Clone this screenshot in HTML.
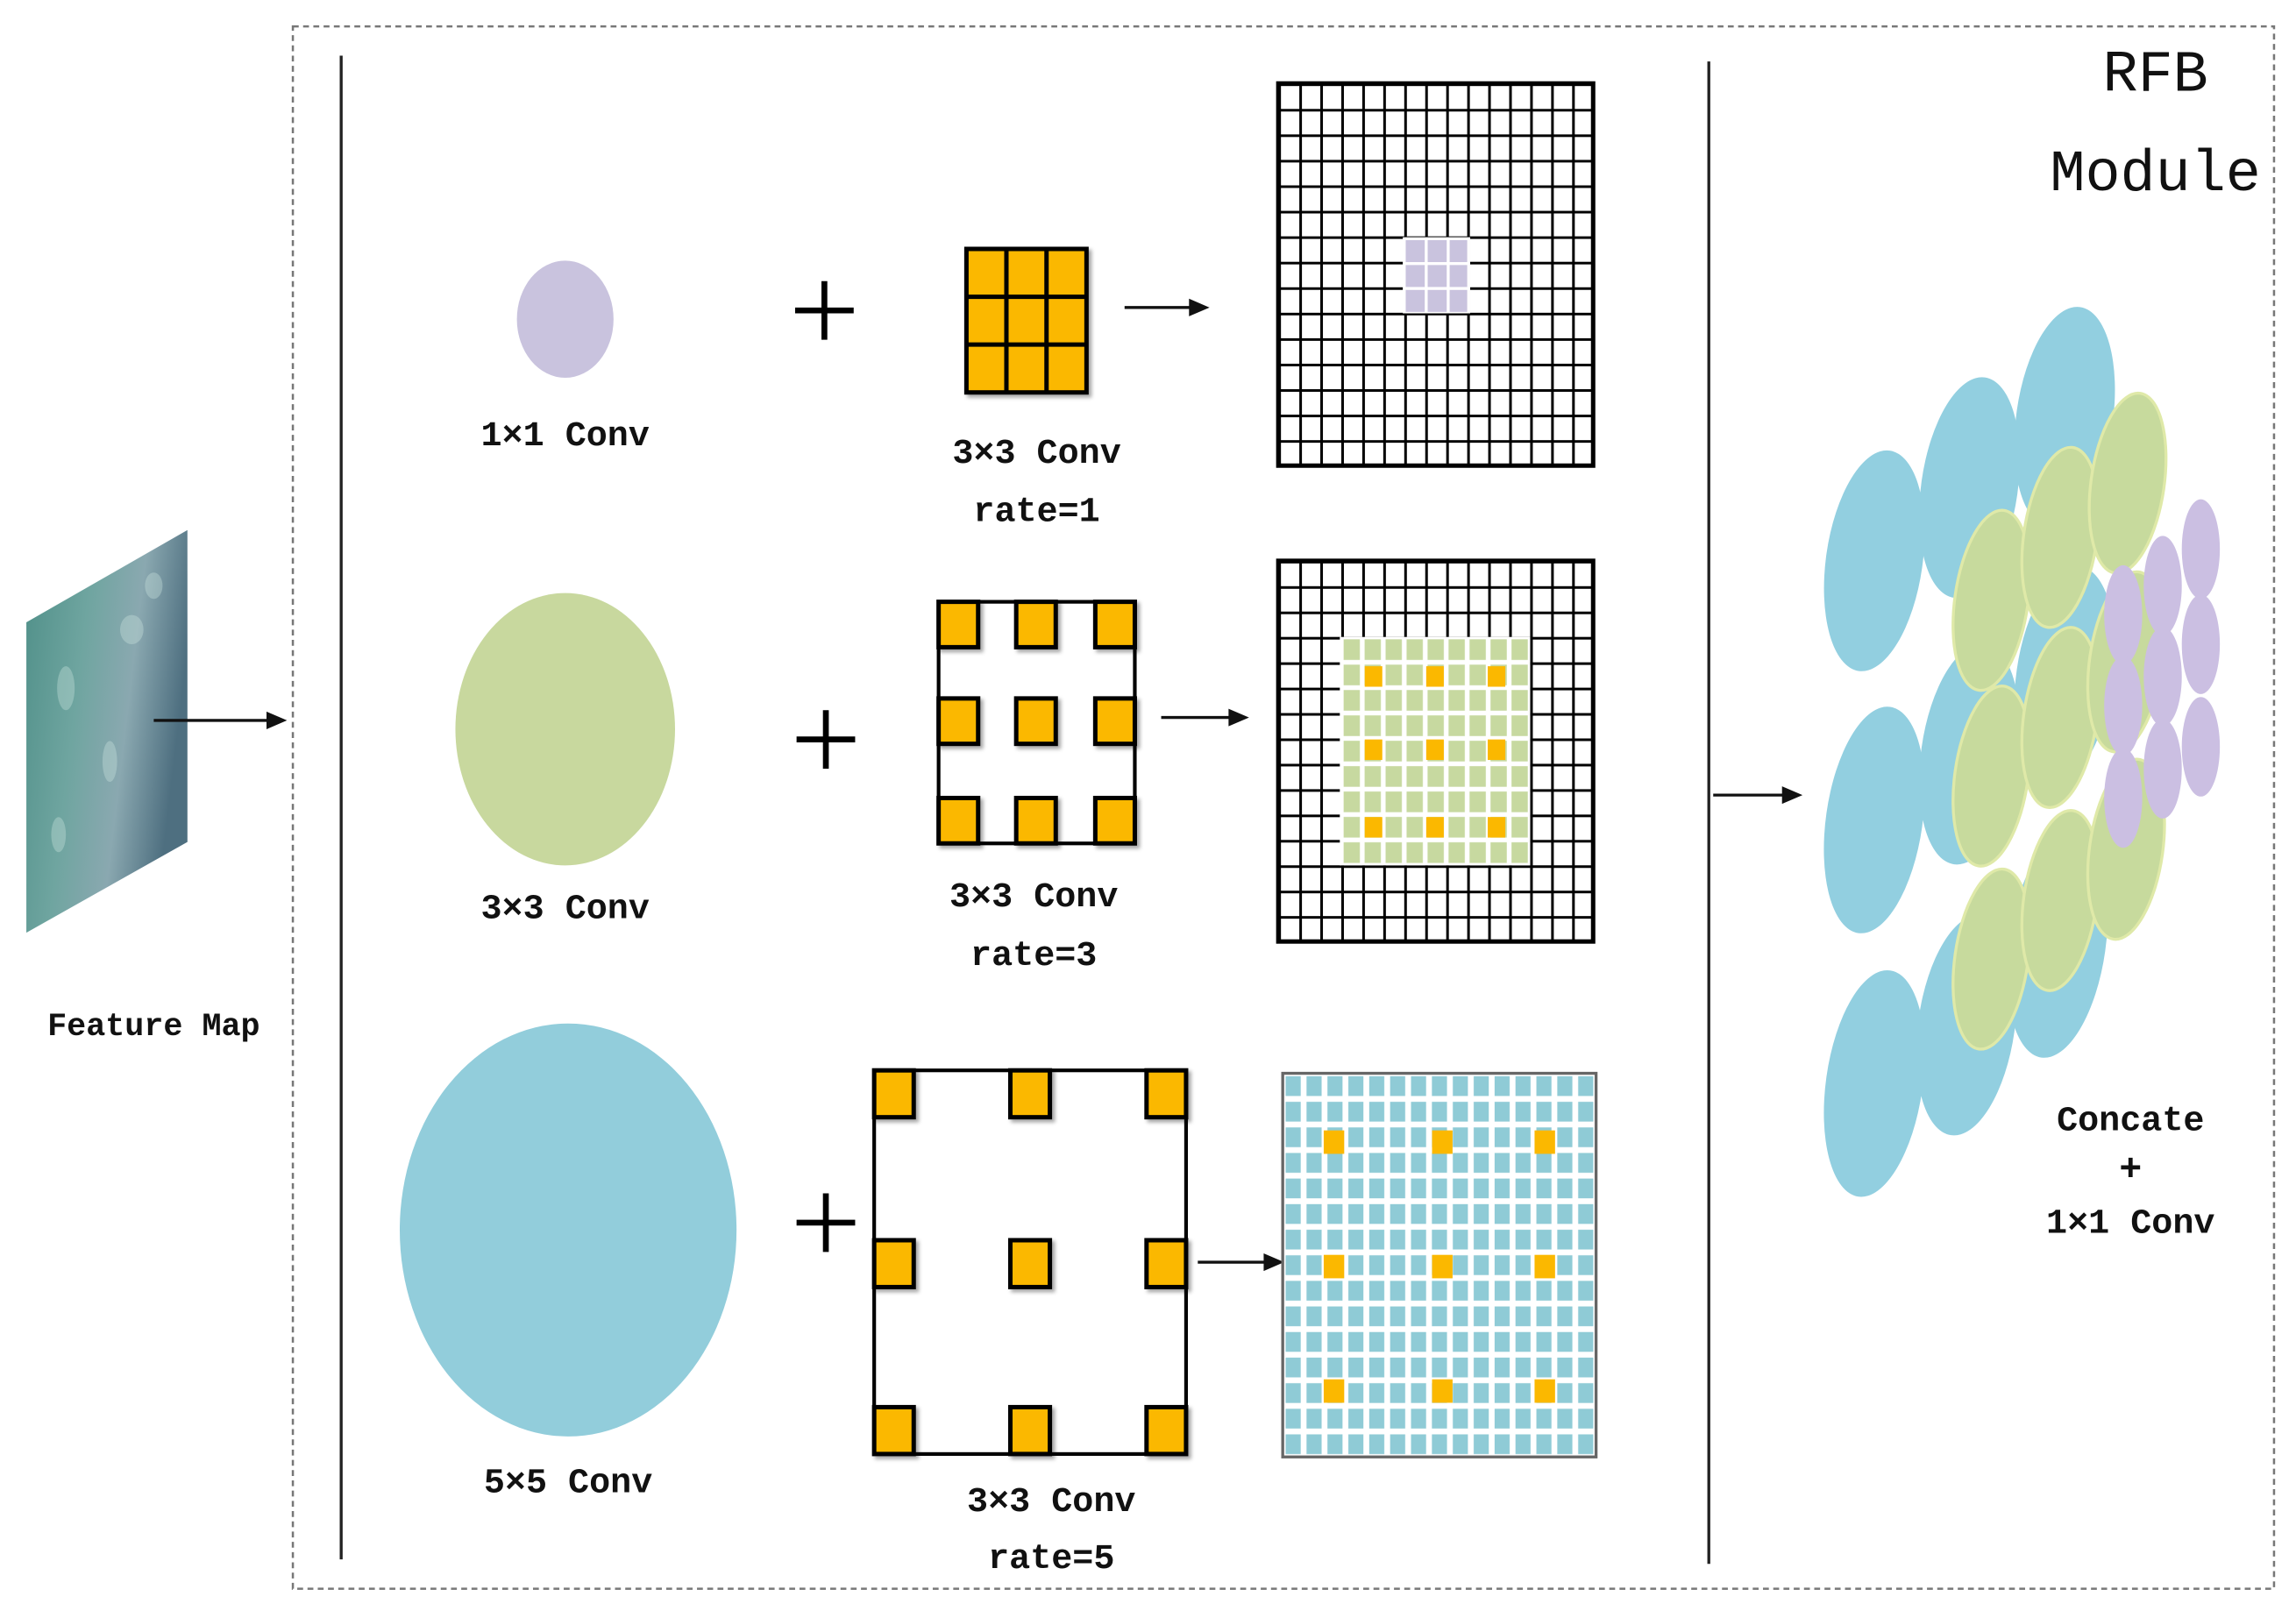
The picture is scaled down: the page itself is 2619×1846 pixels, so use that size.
<!DOCTYPE html>
<html><head><meta charset="utf-8"><style>
html,body{margin:0;padding:0;background:#fff;}
svg{display:block;}
text{font-family:"Liberation Mono","DejaVu Sans Mono",monospace;font-weight:bold;fill:#111;text-anchor:middle;}
</style></head><body>
<svg width="2619" height="1846" viewBox="0 0 1568 1105" preserveAspectRatio="none" xmlns="http://www.w3.org/2000/svg">
<defs>
<pattern id="g1" x="873" y="57" width="14.333" height="17.4" patternUnits="userSpaceOnUse">
<rect width="14.333" height="17.4" fill="#fff"/>
<path d="M0 0H14.333M0 0V17.4" stroke="#000" stroke-width="3.6" fill="none"/>
</pattern>
<pattern id="g2" x="873" y="383" width="14.333" height="17.33" patternUnits="userSpaceOnUse">
<rect width="14.333" height="17.33" fill="#fff"/>
<path d="M0 0H14.333M0 0V17.33" stroke="#000" stroke-width="3.6" fill="none"/>
</pattern>
<pattern id="gg" x="873" y="383" width="14.333" height="17.33" patternUnits="userSpaceOnUse">
<rect width="14.333" height="17.33" fill="#fff"/>
<rect x="1.6" y="1.6" width="11.1" height="14.1" fill="#c7d9a0"/>
</pattern>
<pattern id="gb" x="876" y="733" width="14.27" height="17.47" patternUnits="userSpaceOnUse">
<rect width="14.27" height="17.47" fill="#fff"/>
<rect x="2" y="2" width="10.3" height="13.5" fill="#8fcbd6"/>
</pattern>
<linearGradient id="fm" x1="0" y1="0" x2="1" y2="0.3">
<stop offset="0" stop-color="#4f8f88"/><stop offset="0.4" stop-color="#6fa5a0"/><stop offset="0.7" stop-color="#8aa8b0"/><stop offset="1" stop-color="#4e6f80"/>
</linearGradient>
<filter id="sh" x="-20%" y="-20%" width="150%" height="150%"><feDropShadow dx="2" dy="2" stdDeviation="1.2" flood-color="#000" flood-opacity="0.35"/></filter>
</defs>

<rect x="200" y="18" width="1353" height="1067" fill="none" stroke="#777" stroke-width="1.5" stroke-dasharray="4 3"/>
<line x1="233" y1="38" x2="233" y2="1065" stroke="#222" stroke-width="2"/>
<line x1="1167" y1="42" x2="1167" y2="1068" stroke="#222" stroke-width="2"/>

<polygon points="18,425 128,362 128,575 18,637" fill="url(#fm)"/>
<g opacity="0.35" fill="#cfe8e2">
<ellipse cx="45" cy="470" rx="6" ry="15"/><ellipse cx="90" cy="430" rx="8" ry="10"/><ellipse cx="75" cy="520" rx="5" ry="14"/><ellipse cx="105" cy="400" rx="6" ry="9"/><ellipse cx="40" cy="570" rx="5" ry="12"/>
</g>
<line x1="105" y1="492" x2="185" y2="492" stroke="#111" stroke-width="2"/>
<polygon points="196,492 182,486 182,498" fill="#111"/>
<text x="105" y="707" font-size="22">Feature Map</text>

<ellipse cx="386" cy="218" rx="33" ry="40" fill="#c9c3de"/>
<text x="386" y="304" font-size="24">1×1 Conv</text>
<path d="M543 212H583M563 192V232" stroke="#000" stroke-width="4"/>
<g filter="url(#sh)">
<rect x="660" y="170" width="82" height="98" fill="#fbb800" stroke="#000" stroke-width="3"/>
<path d="M687.3 170V268M714.7 170V268M660 202.7H742M660 235.3H742" stroke="#000" stroke-width="3"/>
</g>
<text x="708" y="316" font-size="24">3×3 Conv</text>
<text x="708" y="356" font-size="24">rate=1</text>
<line x1="768" y1="210" x2="815" y2="210" stroke="#111" stroke-width="2"/>
<polygon points="826,210 812,204 812,216" fill="#111"/>
<rect x="873" y="57" width="215" height="261" fill="url(#g1)" stroke="#000" stroke-width="3"/>
<rect x="958" y="162" width="46" height="52" fill="#fff"/>
<g fill="#c9c3de">
<rect x="960" y="164" width="13" height="15"/><rect x="975" y="164" width="13" height="15"/><rect x="990" y="164" width="12" height="15"/>
<rect x="960" y="181" width="13" height="15"/><rect x="975" y="181" width="13" height="15"/><rect x="990" y="181" width="12" height="15"/>
<rect x="960" y="198" width="13" height="15"/><rect x="975" y="198" width="13" height="15"/><rect x="990" y="198" width="12" height="15"/>
</g>

<ellipse cx="386" cy="498" rx="75" ry="93" fill="#c8d89e"/>
<text x="386" y="627" font-size="24">3×3 Conv</text>
<path d="M544 505H584M564 485V525" stroke="#000" stroke-width="4"/>
<rect x="641" y="411" width="134" height="165" fill="#fff" stroke="#000" stroke-width="2.5"/>
<g fill="#fbb800" stroke="#000" stroke-width="3" filter="url(#sh)">
<rect x="641" y="411" width="27" height="31"/><rect x="694" y="411" width="27" height="31"/><rect x="748" y="411" width="27" height="31"/>
<rect x="641" y="477" width="27" height="31"/><rect x="694" y="477" width="27" height="31"/><rect x="748" y="477" width="27" height="31"/>
<rect x="641" y="545" width="27" height="31"/><rect x="694" y="545" width="27" height="31"/><rect x="748" y="545" width="27" height="31"/>
</g>
<text x="706" y="619" font-size="24">3×3 Conv</text>
<text x="706" y="659" font-size="24">rate=3</text>
<line x1="793" y1="490" x2="842" y2="490" stroke="#111" stroke-width="2"/>
<polygon points="853,490 839,484 839,496" fill="#111"/>
<rect x="873" y="383" width="215" height="260" fill="url(#g2)" stroke="#000" stroke-width="3"/>
<rect x="915" y="435" width="130" height="156" fill="url(#gg)"/>
<g fill="#fbb800">
<rect x="932" y="455" width="12" height="14"/><rect x="974" y="455" width="12" height="14"/><rect x="1016" y="455" width="12" height="14"/>
<rect x="932" y="505" width="12" height="14"/><rect x="974" y="505" width="12" height="14"/><rect x="1016" y="505" width="12" height="14"/>
<rect x="932" y="558" width="12" height="14"/><rect x="974" y="558" width="12" height="14"/><rect x="1016" y="558" width="12" height="14"/>
</g>

<ellipse cx="388" cy="840" rx="115" ry="141" fill="#92cddb"/>
<text x="388" y="1019" font-size="24">5×5 Conv</text>
<path d="M544 835H584M564 815V855" stroke="#000" stroke-width="4"/>
<rect x="597" y="731" width="213" height="262" fill="#fff" stroke="#000" stroke-width="2.5"/>
<g fill="#fbb800" stroke="#000" stroke-width="3" filter="url(#sh)">
<rect x="597" y="731" width="27" height="32"/><rect x="690" y="731" width="27" height="32"/><rect x="783" y="731" width="27" height="32"/>
<rect x="597" y="847" width="27" height="32"/><rect x="690" y="847" width="27" height="32"/><rect x="783" y="847" width="27" height="32"/>
<rect x="597" y="961" width="27" height="32"/><rect x="690" y="961" width="27" height="32"/><rect x="783" y="961" width="27" height="32"/>
</g>
<text x="718" y="1032" font-size="24">3×3 Conv</text>
<text x="718" y="1071" font-size="24">rate=5</text>
<line x1="818" y1="862" x2="866" y2="862" stroke="#111" stroke-width="2"/>
<polygon points="877,862 863,856 863,868" fill="#111"/>
<rect x="876" y="733" width="214" height="262" fill="url(#gb)" stroke="#666" stroke-width="2"/>
<g fill="#fbb800">
<rect x="904" y="772" width="14" height="16"/><rect x="978" y="772" width="14" height="16"/><rect x="1048" y="772" width="14" height="16"/>
<rect x="904" y="857" width="14" height="16"/><rect x="978" y="857" width="14" height="16"/><rect x="1048" y="857" width="14" height="16"/>
<rect x="904" y="942" width="14" height="16"/><rect x="978" y="942" width="14" height="16"/><rect x="1048" y="942" width="14" height="16"/>
</g>

<line x1="1170" y1="543" x2="1220" y2="543" stroke="#111" stroke-width="2"/>
<polygon points="1231,543 1217,537 1217,549" fill="#111"/>

<g fill="#92cfe0">
<ellipse cx="1280" cy="383" rx="33" ry="76" transform="rotate(8 1280 383)"/>
<ellipse cx="1280" cy="560" rx="33" ry="78" transform="rotate(8 1280 560)"/>
<ellipse cx="1280" cy="740" rx="33" ry="78" transform="rotate(8 1280 740)"/>
<ellipse cx="1345" cy="333" rx="33" ry="76" transform="rotate(8 1345 333)"/>
<ellipse cx="1345" cy="515" rx="33" ry="76" transform="rotate(8 1345 515)"/>
<ellipse cx="1343" cy="700" rx="33" ry="76" transform="rotate(8 1343 700)"/>
<ellipse cx="1410" cy="285" rx="33" ry="76" transform="rotate(8 1410 285)"/>
<ellipse cx="1410" cy="462" rx="33" ry="76" transform="rotate(8 1410 462)"/>
<ellipse cx="1405" cy="645" rx="33" ry="78" transform="rotate(8 1405 645)"/>
</g>
<g fill="#c7da9d" stroke="#dfe9a8" stroke-width="2">
<ellipse cx="1360" cy="410" rx="25" ry="62" transform="rotate(8 1360 410)"/>
<ellipse cx="1407" cy="367" rx="25" ry="62" transform="rotate(8 1407 367)"/>
<ellipse cx="1453" cy="330" rx="25" ry="62" transform="rotate(8 1453 330)"/>
<ellipse cx="1360" cy="530" rx="25" ry="62" transform="rotate(8 1360 530)"/>
<ellipse cx="1407" cy="490" rx="25" ry="62" transform="rotate(8 1407 490)"/>
<ellipse cx="1452" cy="452" rx="25" ry="62" transform="rotate(8 1452 452)"/>
<ellipse cx="1360" cy="655" rx="25" ry="62" transform="rotate(8 1360 655)"/>
<ellipse cx="1407" cy="615" rx="25" ry="62" transform="rotate(8 1407 615)"/>
<ellipse cx="1452" cy="580" rx="25" ry="62" transform="rotate(8 1452 580)"/>
</g>
<g fill="#cbbfe2">
<ellipse cx="1450" cy="420" rx="13" ry="34"/>
<ellipse cx="1477" cy="400" rx="13" ry="34"/>
<ellipse cx="1503" cy="375" rx="13" ry="34"/>
<ellipse cx="1450" cy="482" rx="13" ry="34"/>
<ellipse cx="1477" cy="462" rx="13" ry="34"/>
<ellipse cx="1503" cy="440" rx="13" ry="34"/>
<ellipse cx="1450" cy="545" rx="13" ry="34"/>
<ellipse cx="1477" cy="525" rx="13" ry="34"/>
<ellipse cx="1503" cy="510" rx="13" ry="34"/>
</g>

<text x="1455" y="772" font-size="24">Concate</text>
<text x="1455" y="806" font-size="26">+</text>
<text x="1455" y="842" font-size="24">1×1 Conv</text>

<text x="1472" y="62" font-size="40" style="font-weight:normal">RFB</text>
<text x="1472" y="130" font-size="40" style="font-weight:normal">Module</text>
</svg>
</body></html>
